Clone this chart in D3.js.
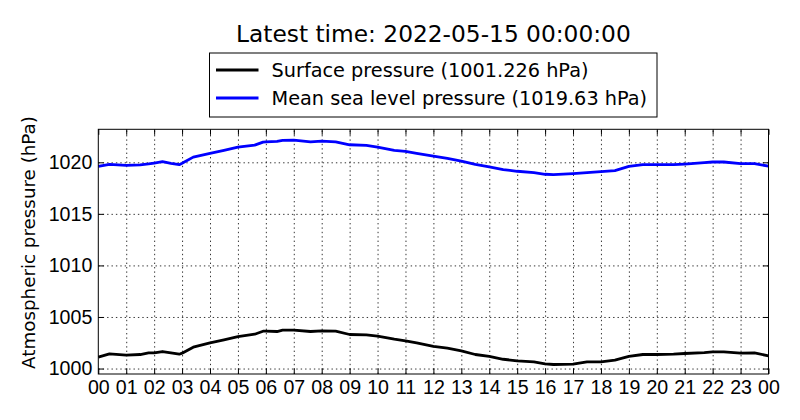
<!DOCTYPE html>
<html>
<head>
<meta charset="utf-8">
<script src="https://cdn.jsdelivr.net/npm/d3@7"></script>
<style>
  body { margin: 0; background: #fff; }
  svg { font-family: "DejaVu Sans", sans-serif; }
  .grid line { stroke: #000; stroke-width: 0.8; stroke-dasharray: 1.4,3; }
  .grid path { display: none; }
</style>
</head>
<body>
<div id="chart"></div>
<script>
// hours since 2022-05-14 00:00
var hours = [0, 0.4, 1, 1.5, 1.8, 2, 2.3, 2.6, 2.9, 3,
    3.4, 4, 4.5, 5, 5.6, 5.9, 6, 6.4, 6.6, 7,
    7.6, 8, 8.5, 9, 9.6, 10, 10.6, 11, 11.4, 12,
    12.5, 13, 13.5, 14, 14.5, 15, 15.6, 16, 16.3, 17,
    17.5, 18, 18.5, 19, 19.5, 20, 20.6, 21, 21.7, 22,
    22.4, 23, 23.5, 24]

var mslPressure = [1019.6, 1019.8, 1019.7, 1019.75, 1019.85, 1019.93, 1020.06, 1019.9, 1019.77, 1019.9,
    1020.5, 1020.87, 1021.16, 1021.48, 1021.67, 1021.96, 1021.99, 1022.03, 1022.12, 1022.15,
    1021.99, 1022.06, 1021.99, 1021.7, 1021.64, 1021.48, 1021.16, 1021.06, 1020.87, 1020.6,
    1020.38, 1020.12, 1019.8, 1019.55, 1019.29, 1019.13, 1019.0, 1018.84, 1018.8, 1018.9,
    1019.0, 1019.1, 1019.2, 1019.6, 1019.77, 1019.77, 1019.77, 1019.83, 1019.96, 1020.03,
    1020.03, 1019.87, 1019.87, 1019.63]

var surfacePressure = [1001.1, 1001.42, 1001.3, 1001.36, 1001.52, 1001.52, 1001.65, 1001.52, 1001.39, 1001.49,
    1002.07, 1002.49, 1002.78, 1003.1, 1003.33, 1003.62, 1003.62, 1003.59, 1003.72, 1003.72,
    1003.59, 1003.65, 1003.62, 1003.3, 1003.27, 1003.14, 1002.85, 1002.69, 1002.49, 1002.14,
    1001.97, 1001.72, 1001.36, 1001.17, 1000.9, 1000.75, 1000.65, 1000.46, 1000.39, 1000.42,
    1000.65, 1000.65, 1000.81, 1001.17, 1001.36, 1001.36, 1001.39, 1001.46, 1001.55, 1001.62,
    1001.62, 1001.49, 1001.52, 1001.23]

var hourTicks = d3.range(0, 25)
var hourLabels = ["00","01","02","03","04","05","06","07","08","09","10","11",
    "12","13","14","15","16","17","18","19","20","21","22","23","00"]
var pressureTicks = [1000, 1005, 1010, 1015, 1020]

var titleText = "Latest time: 2022-05-15 00:00:00"
var seriesNames = ["Surface pressure (1001.226 hPa)", "Mean sea level pressure (1019.63 hPa)"]
var seriesColors = ["#000000", "#0000ff"]

var width = 800
var height = 420
var margins = {left: 98.3, right: 31.5, top: 129.3, bottom: 46}

var svg = d3.select("#chart").append("svg").attr("width", width).attr("height", height)

var x = d3.scaleLinear().domain([0, 24]).range([margins.left, width - margins.right])
var y = d3.scaleLinear().domain([999.47, 1023.2]).range([height - margins.bottom, margins.top])

var plotW = width - margins.left - margins.right
var plotH = height - margins.top - margins.bottom

// grid
svg.append("g").attr("class", "grid")
    .attr("transform", "translate(0," + (height - margins.bottom) + ")")
    .call(d3.axisBottom(x).tickValues(hourTicks.slice(1, -1)).tickSize(-plotH).tickFormat(""))
svg.append("g").attr("class", "grid")
    .attr("transform", "translate(" + margins.left + ",0)")
    .call(d3.axisLeft(y).tickValues(pressureTicks).tickSize(-plotW).tickFormat(""))

// lines
var series = [surfacePressure, mslPressure]
var line = d3.line()
    .x((d, i) => x(hours[i]))
    .y(d => y(d))

svg.selectAll(".series")
    .data(series)
    .enter()
    .append("path")
    .attr("class", "series")
    .attr("fill", "none")
    .attr("stroke", (d, i) => seriesColors[i])
    .attr("stroke-width", 2.8)
    .attr("stroke-linejoin", "round")
    .attr("d", line)

// axes, ticks inward on all four sides
function styleAxis(g) {
    g.select(".domain").remove()
    g.selectAll("line").attr("stroke", "#000").attr("stroke-width", 1)
    g.selectAll("text").attr("fill", "#000").style("font-size", "19.6px")
}

svg.append("g")
    .attr("transform", "translate(0," + (height - margins.bottom) + ")")
    .call(d3.axisBottom(x).tickValues(hourTicks).tickFormat((d, i) => hourLabels[i]).tickSizeInner(-5.5).tickSizeOuter(0).tickPadding(6))
    .call(styleAxis)
svg.append("g")
    .attr("transform", "translate(0," + margins.top + ")")
    .call(d3.axisTop(x).tickValues(hourTicks).tickFormat("").tickSizeInner(-5.5).tickSizeOuter(0))
    .call(styleAxis)
svg.append("g")
    .attr("transform", "translate(" + margins.left + ",0)")
    .call(d3.axisLeft(y).tickValues(pressureTicks).tickFormat(d3.format("d")).tickSizeInner(-5.5).tickSizeOuter(0).tickPadding(6))
    .call(styleAxis)
svg.append("g")
    .attr("transform", "translate(" + (width - margins.right) + ",0)")
    .call(d3.axisRight(y).tickValues(pressureTicks).tickFormat("").tickSizeInner(-5.5).tickSizeOuter(0))
    .call(styleAxis)

// frame
svg.append("rect")
    .attr("x", margins.left).attr("y", margins.top)
    .attr("width", plotW).attr("height", plotH)
    .attr("fill", "none").attr("stroke", "#000").attr("stroke-width", 1)

// y label
svg.append("text")
    .attr("transform", "translate(34.5,242.5) rotate(-90)")
    .attr("text-anchor", "middle")
    .style("font-size", "18.3px")
    .text("Atmospheric pressure (hPa)")

// title
svg.append("text")
    .attr("x", margins.left + plotW / 2)
    .attr("y", 42)
    .attr("text-anchor", "middle")
    .style("font-size", "23.3px")
    .text(titleText)

// legend
var legend = svg.append("g").attr("transform", "translate(209.5,53)")
legend.append("rect")
    .attr("width", 447.5).attr("height", 64)
    .attr("fill", "#fff").attr("stroke", "#000").attr("stroke-width", 1)
var rows = legend.selectAll(".row")
    .data(seriesNames)
    .enter()
    .append("g")
    .attr("class", "row")
    .attr("transform", (d, i) => "translate(0," + (17 + i * 28) + ")")
rows.append("line")
    .attr("x1", 6.5).attr("x2", 49)
    .attr("stroke", (d, i) => seriesColors[i])
    .attr("stroke-width", 2.8)
rows.append("text")
    .attr("x", 62)
    .attr("dy", "0.35em")
    .style("font-size", "19.3px")
    .text(d => d)
</script>
</body>
</html>
